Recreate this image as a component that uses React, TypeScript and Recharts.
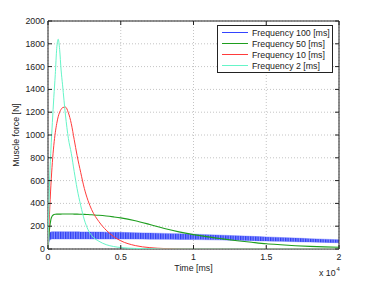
import React from 'react'
import { ComposedChart, Line, Area, XAxis, YAxis, CartesianGrid, ReferenceArea } from 'recharts'

// time samples [ms]
const times = [0, 100, 200, 300, 400, 500, 600, 700, 800, 900, 1000, 1200, 1400, 1600, 1800, 2000, 2250, 2500, 2750, 3000, 3500, 4000, 4500, 5000, 6000, 7000, 8000, 9000, 10000, 11000, 12000, 13000, 14000, 15000, 16000, 17000, 18000, 19000, 20000]

// Frequency 100 [ms] - oscillating band, lower and upper edge
const freq100Low = [0, 72, 85, 88, 88, 88, 88, 88, 88, 88, 88, 88, 88, 88, 88, 88, 88, 88, 88, 88, 88, 88, 88, 88, 87, 86, 85, 84, 83, 81, 79, 76, 73, 70, 67, 64, 61, 58, 55]
const freq100High = [0, 140, 150, 152, 152, 152, 152, 152, 152, 152, 152, 151, 151, 151, 151, 151, 150, 150, 150, 150, 149, 148, 147, 146, 143, 140, 137, 134, 130, 126, 121, 116, 111, 106, 101, 96, 91, 86, 81]
// Frequency 50 [ms]
const freq50 = [0, 170, 260, 292, 302, 305, 306, 306, 306, 306, 307, 307, 307, 307, 306, 306, 305, 304, 302, 300, 296, 290, 282, 273, 248, 215, 180, 150, 126, 106, 89, 73, 59, 46, 37, 29, 23, 19, 16]
// Frequency 10 [ms]
const freq10 = [0, 300, 560, 760, 910, 1020, 1100, 1160, 1200, 1225, 1240, 1245, 1195, 1100, 960, 820, 670, 530, 425, 345, 240, 165, 110, 72, 30, 12, 4, 1, 0, 0, 0, 0, 0, 0, 0, 0, 0, 0, 0]
// Frequency 2 [ms]
const freq2 = [0, 550, 870, 1110, 1330, 1530, 1760, 1840, 1750, 1570, 1440, 1175, 970, 840, 680, 530, 380, 255, 170, 118, 68, 38, 22, 13, 5, 2, 0, 0, 0, 0, 0, 0, 0, 0, 0, 0, 0, 0, 0]

const xTicks = [0, 5000, 10000, 15000, 20000]
const xTickLabels = ['0', '0.5', '1', '1.5', '2']
const yTicks = [0, 200, 400, 600, 800, 1000, 1200, 1400, 1600, 1800, 2000]

const series = [
  { name: 'Frequency 100 [ms]', color: '#3344ff' },
  { name: 'Frequency 50 [ms]', color: '#1e9e1e' },
  { name: 'Frequency 10 [ms]', color: '#ff3b3b' },
  { name: 'Frequency 2 [ms]', color: '#66f5c8' },
]

const data = times.map((t, i) => ({
  t,
  f100: [freq100Low[i], freq100High[i]],
  f50: freq50[i],
  f10: freq10[i],
  f2: freq2[i],
}))

const W = 374
const H = 281
const LEFT = 48
const TOP = 21
const RIGHT = 339
const BOTTOM = 249
const FONT = '"Liberation Sans", Arial, sans-serif'
const INK = '#222'

const XTick = (props: any) => {
  const { x, payload } = props
  const label = xTickLabels[xTicks.indexOf(payload.value)]
  return (
    <g>
      <line x1={x} x2={x} y1={BOTTOM} y2={BOTTOM - 4} stroke={INK} />
      <line x1={x} x2={x} y1={TOP} y2={TOP + 4} stroke={INK} />
      <text x={x} y={BOTTOM + 11} textAnchor="middle" fontSize={8.8} fontFamily={FONT} fill={INK}>{label}</text>
    </g>
  )
}

const YTick = (props: any) => {
  const { y, payload } = props
  return (
    <g>
      <line x1={LEFT} x2={LEFT + 4} y1={y} y2={y} stroke={INK} />
      <line x1={RIGHT} x2={RIGHT - 4} y1={y} y2={y} stroke={INK} />
      <text x={LEFT - 3} y={y + 3} textAnchor="end" fontSize={8.8} fontFamily={FONT} fill={INK}>{payload.value}</text>
    </g>
  )
}

const App = () => {
  return (
    <div style={{ position: 'relative', width: W, height: H, background: '#fff' }}>
      <style>{'body{margin:0}'}</style>
      <ComposedChart width={W} height={H} data={data} margin={{ top: TOP, right: W - RIGHT, bottom: 0, left: 0 }}>
        <defs>
          <pattern id="blueStripes" width="2.5" height="8" patternUnits="userSpaceOnUse">
            <rect width="2.5" height="8" fill="#8892ff" />
            <rect width="1.3" height="8" fill="#2e3ef4" />
          </pattern>
        </defs>
        <CartesianGrid stroke="#c4c4c4" strokeDasharray="1 2" />
        <XAxis dataKey="t" type="number" domain={[0, 20000]} ticks={xTicks} interval={0} height={H - BOTTOM}
          axisLine={false} tickLine={false} tick={<XTick />} allowDataOverflow />
        <YAxis type="number" domain={[0, 2000]} ticks={yTicks} interval={0} width={LEFT}
          axisLine={false} tickLine={false} tick={<YTick />} allowDataOverflow />
        <Area type="monotone" dataKey="f100" stroke="#4a57ff" strokeWidth={0.6} strokeOpacity={0.6}
          fill="url(#blueStripes)" fillOpacity={1} isAnimationActive={false} />
        <Line type="monotone" dataKey="f50" stroke={series[1].color} strokeWidth={1.1} dot={false} isAnimationActive={false} />
        <Line type="monotone" dataKey="f10" stroke={series[2].color} strokeWidth={1} dot={false} isAnimationActive={false} />
        <Line type="monotone" dataKey="f2" stroke={series[3].color} strokeWidth={1} dot={false} isAnimationActive={false} />
        <ReferenceArea x1={0} x2={20000} y1={0} y2={2000} fill="none" stroke={INK} strokeWidth={1} />
      </ComposedChart>
      <svg width={W} height={H} style={{ position: 'absolute', left: 0, top: 0, pointerEvents: 'none' }}>
        <text transform={`translate(17,${(TOP + BOTTOM) / 2}) rotate(-90)`} textAnchor="middle" dominantBaseline="middle"
          fontSize={8.8} fontFamily={FONT} fill={INK}>Muscle force [N]</text>
        <text x={(LEFT + RIGHT) / 2} y={271} textAnchor="middle" fontSize={8.8} fontFamily={FONT} fill={INK}>Time [ms]</text>
        <text x={319} y={276} fontSize={8.8} fontFamily={FONT} fill={INK}>x 10</text>
        <text x={336.5} y={270.5} fontSize={6} fontFamily={FONT} fill={INK}>4</text>
        <rect x={217.5} y={25.5} width={115} height={47} fill="#fff" stroke={INK} strokeWidth={1} />
        {series.map((s, i) => (
          <g key={s.name}>
            <line x1={222} x2={248} y1={32.5 + i * 11} y2={32.5 + i * 11} stroke={s.color} strokeWidth={1} />
            <text x={252} y={35.5 + i * 11} fontSize={8.8} fontFamily={FONT} fill={INK}>{s.name}</text>
          </g>
        ))}
      </svg>
    </div>
  )
}

export default App
